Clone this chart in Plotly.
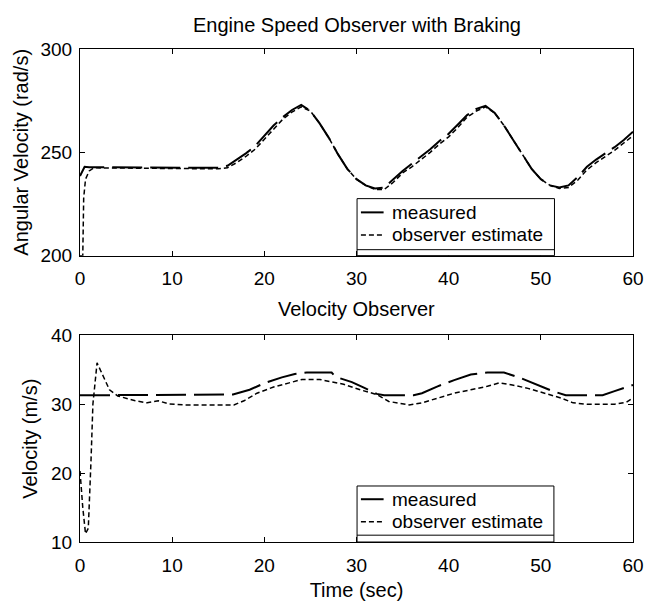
import plotly.graph_objects as go

# ---------------- data ----------------
# Top: engine speed (rad/s)
t_eng_meas = [0, 0.5, 1, 15, 16, 17, 18, 19, 20, 21, 22, 23, 24, 25, 26, 27, 28, 29, 30, 31, 32, 33, 34,
              35, 36, 37, 38, 39, 40, 41, 42, 43, 44, 45, 46, 47, 48, 49, 50, 51, 52, 53, 54, 55, 56, 57,
              58, 59, 60]
eng_meas = [238.5, 243, 242.8, 242.5, 243.5, 246.5, 249.5, 253, 258, 263, 267, 270.5, 273, 270, 264, 257,
            249, 242, 237, 234, 232.5, 233, 237, 241, 244.5, 248, 251.5, 255.5, 259, 263.5, 268, 271,
            272.5, 269, 263, 256, 249, 242, 237, 234, 233, 234, 238, 243, 246.5, 249.5, 252.5, 256, 260]

t_eng_est = [0, 0.3, 0.4, 0.6, 1.0, 1.5, 15, 16, 17, 18, 19, 20, 21, 22, 23, 24, 25, 26, 27, 28, 29, 30,
             31, 32, 33, 34, 35, 36, 37, 38, 39, 40, 41, 42, 43, 44, 45, 46, 47, 48, 49, 50, 51, 52, 53,
             54, 55, 56, 57, 58, 59, 60]
eng_est = [200, 200, 228, 237, 241, 242.5, 242, 242.5, 245, 248, 251.5, 256.5, 261.5, 266, 269.5, 272,
           270, 264, 257, 249, 242, 237, 234, 232, 232, 235.5, 240, 243, 246.5, 250, 254, 257.5, 262,
           267, 270, 272, 269, 263, 256, 249, 242, 237, 234, 232.5, 233, 236.5, 241.5, 245, 248, 251,
           254.5, 258]

# Bottom: vehicle velocity (m/s)
t_vel_meas = [0, 16.6, 18.4, 20.1, 21.9, 23.3, 24.6, 27.3, 27.7, 29.5, 30.8, 32.2, 33, 36.2, 37.1, 38.8,
              40.6, 42.4, 44.2, 46, 47.8, 49.5, 51.3, 52.7, 56.7, 58, 60]
vel_meas = [31.3, 31.4, 32.1, 33.1, 33.9, 34.4, 34.6, 34.6, 34.0, 33.2, 32.4, 31.5, 31.3, 31.3, 31.6, 32.6,
            33.5, 34.3, 34.6, 34.6, 33.8, 32.9, 31.9, 31.3, 31.3, 31.9, 32.8]

t_vel_est = [0, 0.3, 0.6, 0.9, 1.2, 1.4, 1.85, 2.5, 3.2, 4.1, 6.0, 7.3, 8.5, 9.6, 11.4, 16.7, 17.8, 19.2,
             21, 22.7, 24.1, 26, 28.6, 30.4, 32.2, 33.5, 35.7, 37.1, 38.8, 40.6, 42.4, 44.2, 45.5, 46.9,
             48.6, 50.4, 52.2, 53.5, 55, 58, 59.3, 60]
vel_est = [20.3, 15, 11.2, 12, 22, 30, 36, 34, 32.1, 31.2, 30.5, 30.2, 30.5, 30.05, 29.9, 29.9, 30.5, 31.6,
           32.5, 33.1, 33.6, 33.6, 32.9, 32.1, 31.4, 30.4, 29.9, 30.2, 30.9, 31.6, 32.1, 32.6, 33.1, 32.8,
           32.3, 31.6, 30.9, 30.2, 30.0, 30.0, 30.3, 30.9]

x_ticks = [0, 10, 20, 30, 40, 50, 60]
eng_ticks = [200, 250, 300]
vel_ticks = [10, 20, 30, 40]
legend_labels = ["measured", "observer estimate"]

# ---------------- figure ----------------
FONT = "Liberation Sans, Arial, sans-serif"
meas_line = dict(color="black", width=2, dash="30px,8px")
est_line = dict(color="black", width=1.5, dash="5px,3px")

fig = go.Figure()
fig.add_trace(go.Scatter(x=t_eng_meas, y=eng_meas, mode="lines", line=meas_line,
                         name=legend_labels[0], showlegend=False, xaxis="x", yaxis="y"))
fig.add_trace(go.Scatter(x=t_eng_est, y=eng_est, mode="lines", line=est_line,
                         name=legend_labels[1], showlegend=False, xaxis="x", yaxis="y"))
fig.add_trace(go.Scatter(x=t_vel_meas, y=vel_meas, mode="lines", line=meas_line,
                         name=legend_labels[0], showlegend=False, xaxis="x2", yaxis="y2"))
fig.add_trace(go.Scatter(x=t_vel_est, y=vel_est, mode="lines", line=est_line,
                         name=legend_labels[1], showlegend=False, xaxis="x2", yaxis="y2"))

axis_common = dict(showline=True, linecolor="black", linewidth=1, mirror="ticks", ticks="inside",
                   ticklen=5, tickcolor="black", showgrid=False, zeroline=False,
                   tickfont=dict(family=FONT, size=19, color="black"))

# the page body adds an 8px margin, so the figure is 8px smaller than the window
fig.update_layout(
    width=648, height=602,
    margin=dict(l=72, r=13, t=41, b=60),
    paper_bgcolor="white", plot_bgcolor="white",
    font=dict(family=FONT, size=20, color="black"),
    xaxis=dict(domain=[0, 1], range=[0, 60], tickvals=x_ticks, anchor="y",
               ticklabelstandoff=6, **axis_common),
    yaxis=dict(domain=[0.5808, 1], range=[200, 300], tickvals=eng_ticks, anchor="x",
               ticklabelstandoff=3,
               title=dict(text="Angular Velocity (rad/s)", standoff=6,
                          font=dict(family=FONT, size=20)), **axis_common),
    xaxis2=dict(domain=[0, 1], range=[0, 60], tickvals=x_ticks, anchor="y2",
                ticklabelstandoff=6,
                title=dict(text="Time (sec)", standoff=8, font=dict(family=FONT, size=20)),
                **axis_common),
    yaxis2=dict(domain=[0, 0.4192], range=[10, 40], tickvals=vel_ticks, anchor="x2",
                ticklabelstandoff=3,
                title=dict(text="Velocity (m/s)", standoff=8, font=dict(family=FONT, size=20)),
                **axis_common),
)

# subplot titles
fig.add_annotation(text="Engine Speed Observer with Braking", xref="paper", yref="paper",
                   x=0.5, y=1.049, xanchor="center", yanchor="middle", showarrow=False,
                   font=dict(family=FONT, size=20))
fig.add_annotation(text="Velocity Observer", xref="paper", yref="paper",
                   x=0.5, y=0.473, xanchor="center", yanchor="middle", showarrow=False,
                   font=dict(family=FONT, size=20))

# legend boxes (MATLAB-style) drawn in axis-domain coordinates
def add_legend(xa, ya, x0, x1, ytop, yline, row1, row2):
    xr, yr = f"{xa} domain", f"{ya} domain"
    fig.add_shape(type="rect", xref=xr, yref=yr, x0=x0, x1=x1, y0=0, y1=ytop,
                  line=dict(color="black", width=1), fillcolor="white", layer="above")
    fig.add_shape(type="line", xref=xr, yref=yr, x0=x0, x1=x1, y0=yline, y1=yline,
                  line=dict(color="black", width=1), layer="above")
    for yy, ln, lab in [(row1, dict(color="black", width=2), legend_labels[0]),
                        (row2, dict(color="black", width=1.5, dash="5px,3px"), legend_labels[1])]:
        fig.add_shape(type="line", xref=xr, yref=yr, x0=x0 + 0.007, x1=x0 + 0.048, y0=yy, y1=yy,
                      line=ln, layer="above")
        fig.add_annotation(text=lab, xref=xr, yref=yr, x=x0 + 0.066, y=yy, xanchor="left",
                           yanchor="middle", showarrow=False, font=dict(family=FONT, size=19),
                           xshift=-3, borderpad=0)

add_legend("x", "y", 0.501, 0.858, 0.276, 0.029, 0.2095, 0.100)
add_legend("x2", "y2", 0.501, 0.857, 0.271, 0.033, 0.207, 0.0976)

fig.write_html("out.html")
